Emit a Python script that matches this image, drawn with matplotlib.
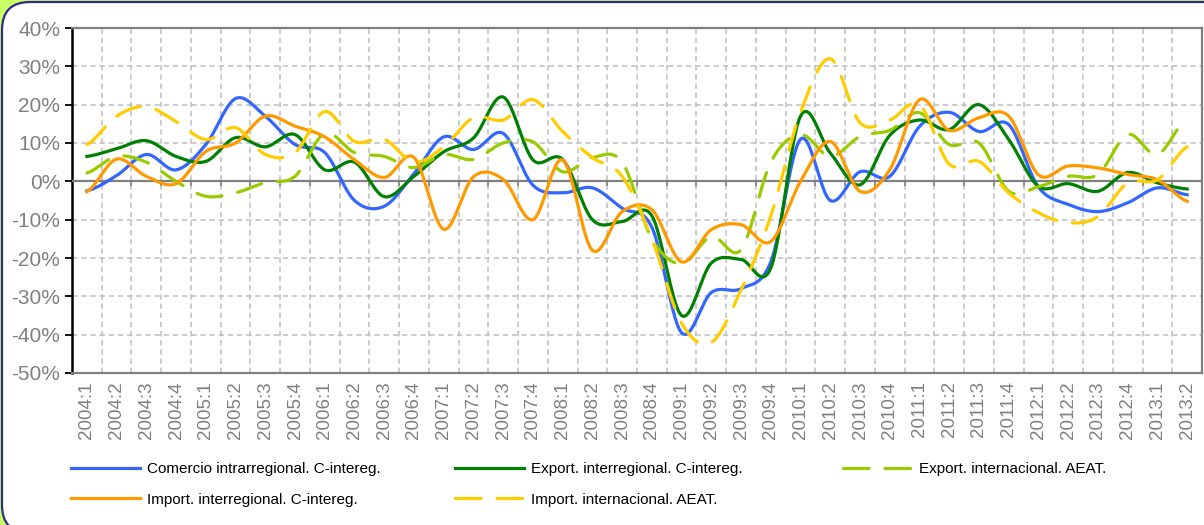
import numpy as np
import matplotlib
matplotlib.use('Agg')
import matplotlib.pyplot as plt
from matplotlib.patches import FancyBboxPatch
from matplotlib.lines import Line2D

plt.rcParams['font.family'] = ['Liberation Sans', 'DejaVu Sans']

# quarters 2004:1 .. 2013:2
quarters = ['%d:%d' % (y, q) for y in range(2004, 2014) for q in range(1, 5)][:38]

# values (%)
comercio_intra = [-2.5, 1.5, 7, 3, 9.6, 21.6, 17, 9.6, 7.5, -5, -6.5, 2, 11.6, 8.3, 12.5, -1,
                  -3, -1.7, -7, -12, -39.5, -29, -28, -21, 11, -5, 2.5, 1.3, 14.3, 18, 13, 14.8,
                  -1.5, -6, -7.9, -5.6, -1.7, -3.5]
export_inter = [6.5, 8.5, 10.6, 6.5, 5.2, 11.4, 9, 12.2, 3, 5, -4, 1.3, 7.7, 11.3, 22, 5.6,
                5.7, -10, -10.5, -9, -35, -21.3, -20.4, -22.6, 17, 7.4, -0.9, 12, 16, 13.5, 20, 10.9,
                -1.3, -0.6, -2.6, 2.3, -0.4, -2]
export_aeat = [2.2, 6.5, 5, 0, -3.9, -3, -0.3, 1.3, 12.5, 7.5, 6.5, 3.6, 7, 5.7, 10, 10.3,
               2.5, 6.2, 5, -15, -21.5, -14.4, -17.8, 5, 12.2, 6.5, 11.7, 13.3, 17.9, 9.6, 10, -2.6,
               -1.4, 1.3, 1.8, 12.2, 7, 16.6]
import_inter = [-2.7, 5.8, 1.3, -0.6, 7.8, 10, 17, 14.4, 11.6, 5.6, 1, 6.2, -12.5, 1.2, 0.5, -10,
                5.6, -18, -7.9, -7.4, -21, -12.6, -11.3, -15.7, 0, 10.4, -2.6, 3, 21.3, 13.3, 16.6, 17,
                1.7, 4, 3.5, 1.8, 0.4, -5.2]
import_aeat = [9.6, 17, 19.5, 15.6, 10.9, 14, 7, 7.5, 18.2, 10.4, 11, 5, 9, 16.6, 16, 21.3,
               13, 6.2, 1.3, -15, -37, -42, -28.3, -9, 18, 32, 15.3, 16, 20, 4.5, 5.2, -3,
               -8.2, -10.8, -9.2, -0.4, 0.4, 9]

labels = ['Comercio intrarregional. C-intereg.', 'Export. interregional. C-intereg.',
          'Export. internacional. AEAT.', 'Import. interregional. C-intereg.',
          'Import. internacional. AEAT.']


# excel-like smoothed line (catmull-rom)
def smooth(y, n=24):
    y = np.asarray(y, float)
    p = np.concatenate([[y[0]], y, [y[-1]]])
    t = np.linspace(0, 1, n, endpoint=False)
    xs, ys = [], []
    for i in range(len(y) - 1):
        p0, p1, p2, p3 = p[i], p[i + 1], p[i + 2], p[i + 3]
        ys.append(0.5 * (2 * p1 + (-p0 + p2) * t + (2 * p0 - 5 * p1 + 4 * p2 - p3) * t ** 2
                         + (-p0 + 3 * p1 - 3 * p2 + p3) * t ** 3))
        xs.append(i + t)
    xs.append([len(y) - 1])
    ys.append([y[-1]])
    return np.concatenate(xs), np.concatenate(ys)


fig = plt.figure(figsize=(12.04, 5.25), dpi=100, facecolor='#CCFF66')
box = FancyBboxPatch((2, -8), 1240, 531, boxstyle='round,pad=0,rounding_size=28',
                     transform=None, facecolor='white', edgecolor='#2A2A90', linewidth=1.6,
                     zorder=-5)
fig.patches.append(box)

ax = fig.add_axes([72 / 1204, 1 - 373 / 525, 1130 / 1204, 345 / 525])
ax.set_facecolor('white')

lw = 2.3
dash = (8, 5)
x, y = smooth(comercio_intra)
ax.plot(x, y, color='#3366FF', lw=lw, zorder=5)
x, y = smooth(export_inter)
ax.plot(x, y, color='#008000', lw=lw, zorder=5)
x, y = smooth(export_aeat)
ax.plot(x, y, color='#99CC00', lw=lw, zorder=5, dashes=dash, dash_capstyle='round')
x, y = smooth(import_inter)
ax.plot(x, y, color='#FF9900', lw=lw, zorder=5)
x, y = smooth(import_aeat)
ax.plot(x, y, color='#FFCC00', lw=lw, zorder=5, dashes=dash, dash_capstyle='round')

ax.set_xlim(-0.5, len(quarters) - 0.5)
ax.set_ylim(-50, 40)

# axes / grid
ax.set_yticks(np.arange(-50, 41, 10))
ax.set_yticklabels(['%d%%' % v for v in range(-50, 41, 10)])
ax.set_xticks(np.arange(len(quarters)))
ax.set_xticklabels(quarters, rotation=90)
ax.set_xticks(np.arange(0.5, len(quarters) - 1, 1), minor=True)
ax.tick_params(axis='y', colors='black', labelcolor='#808080', labelsize=15, length=5, width=1.3)
ax.tick_params(axis='x', which='major', length=0, labelcolor='#808080', labelsize=13.5, pad=6)
ax.tick_params(axis='x', which='minor', length=0)
ax.grid(axis='y', which='major', color='#BFBFBF', lw=1.1, linestyle=(0, (3.5, 2.5)))
ax.grid(axis='x', which='minor', color='#BFBFBF', lw=1.1, linestyle=(0, (3.5, 2.5)))
ax.set_axisbelow(True)

ax.axhline(0, color='#808080', lw=1.6, zorder=3)
ax.vlines(np.arange(0.5, len(quarters) - 1, 1), -1.3, 0, color='#808080', lw=1.2, zorder=3)

for s in ['top', 'right', 'bottom']:
    ax.spines[s].set_color('#808080')
    ax.spines[s].set_linewidth(1.6)
ax.spines['left'].set_color('black')
ax.spines['left'].set_linewidth(1.8)

# legend, three columns placed like the original
h = [Line2D([], [], color='#3366FF', lw=lw),
     Line2D([], [], color='#008000', lw=lw),
     Line2D([], [], color='#99CC00', lw=lw, dashes=dash, dash_capstyle='round'),
     Line2D([], [], color='#FF9900', lw=lw),
     Line2D([], [], color='#FFCC00', lw=lw, dashes=dash, dash_capstyle='round')]
cols = [([h[0], h[3]], [labels[0], labels[3]], 71),
        ([h[1], h[4]], [labels[1], labels[4]], 455),
        ([h[2]], [labels[2]], 843)]
for hh, ll, x0 in cols:
    leg = fig.legend(hh, ll, loc='upper left', bbox_to_anchor=(x0 / 1204, 1 - 462 / 525),
                     frameon=False, fontsize=11, handlelength=4.5, handletextpad=0.45,
                     labelspacing=1.1, borderpad=0, borderaxespad=0)

plt.savefig('out.png', dpi=100, facecolor=fig.get_facecolor())
